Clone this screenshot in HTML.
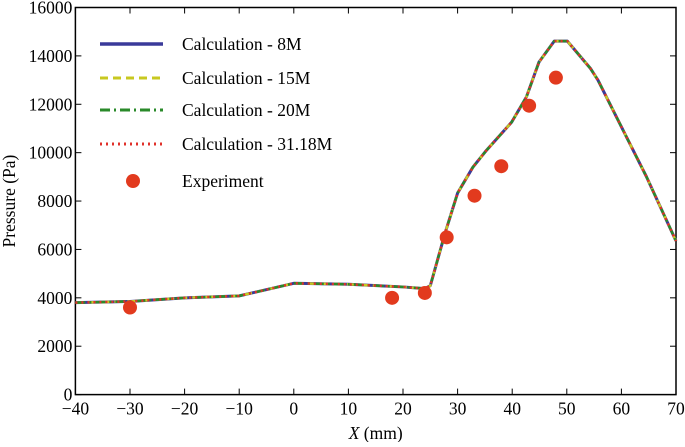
<!DOCTYPE html>
<html><head><meta charset="utf-8"><style>
body{margin:0;background:#fff}
svg,svg text{font-family:"Liberation Serif","Times New Roman","DejaVu Serif",serif;font-size:17.5px}
</style></head><body>
<svg width="685" height="442" id="c" font-family="Liberation Serif, DejaVu Serif, serif"></svg>
<script>
const calcX=[-40,-30,-20,-10,0,10,20,24,25,27.7,30,32.8,35.3,37.8,39.9,42.6,44.9,47.7,50.1,54.3,55.7,64.6,70];
const calcP=[3800,3850,4000,4080,4600,4560,4450,4380,4500,6670,8330,9400,10100,10730,11260,12300,13740,14610,14610,13490,13000,9000,6350];
const expX=[-30,18,24,28,33.1,38,43.1,48];
const expP=[3600,4000,4200,6500,8220,9440,11940,13100];
const xTicks=[-40,-30,-20,-10,0,10,20,30,40,50,60,70];
const yTicks=[0,2000,4000,6000,8000,10000,12000,14000,16000];
const series=[
 {name:'Calculation - 8M',color:'#3a3a9a',dash:'',w:3},
 {name:'Calculation - 15M',color:'#c8c820',dash:'8,5',w:2.5},
 {name:'Calculation - 20M',color:'#2a8a2a',dash:'10,4,2,4',w:2.5},
 {name:'Calculation - 31.18M',color:'#e0302a',dash:'2,4',w:2.5}
];
const L=75.4,R=676,T=7.5,B=394.6;
const sx=v=>L+(v+40)/110*(R-L);
const sy=v=>B-v/16000*(B-T);
const svg=document.getElementById('c');
const NS='http://www.w3.org/2000/svg';
function mk(t,a,p){const e=document.createElementNS(NS,t);for(const k in a)e.setAttribute(k,a[k]);(p||svg).appendChild(e);return e;}
let e;
e=mk('rect',{x:L,y:T,width:R-L,height:B-T,fill:'none',stroke:'#000','stroke-width':1.5});


xTicks.forEach(v=>{
 e=mk('line',{x1:sx(v),x2:sx(v),y1:B,y2:B-6,stroke:'#000'});
 
 
 mk('line',{x1:sx(v),x2:sx(v),y1:T,y2:T+6,stroke:'#000'});
 e=mk('text',{x:sx(v),y:B+20,'text-anchor':'middle'});e.textContent=v<0?'\u2212'+(-v):v;
 
 
});
yTicks.forEach(v=>{
 e=mk('line',{x1:L,x2:L+6,y1:sy(v),y2:sy(v),stroke:'#000'});
 
 
 mk('line',{x1:R,x2:R-6,y1:sy(v),y2:sy(v),stroke:'#000'});
 e=mk('text',{x:L-3,y:sy(v)+6,'text-anchor':'end'});e.textContent=v;
 
 
});
e=mk('text',{x:sx(15),y:439,'text-anchor':'middle'});
e.innerHTML='<tspan font-style="italic">X</tspan> (mm)';


e=mk('text',{x:0,y:0,'text-anchor':'middle',transform:'translate(15,'+((T+B)/2)+') rotate(-90)'});
e.textContent='Pressure (Pa)';


const pts=calcX.map((x,i)=>sx(x)+','+sy(calcP[i])).join(' ');
series.forEach((s,i)=>{
 e=mk('polyline',{points:pts,fill:'none',stroke:s.color,'stroke-width':s.w,'stroke-dasharray':s.dash,'stroke-linejoin':'round'});
 
 
});
expX.forEach((x,i)=>{
 e=mk('circle',{cx:sx(x),cy:sy(expP[i]),r:7,fill:'#e23a1e'});
 
 
});
const ly=[44,78,110,144];
series.forEach((s,i)=>{
 e=mk('line',{x1:100,x2:163,y1:ly[i],y2:ly[i],stroke:s.color,'stroke-width':s.w+0.5,'stroke-dasharray':s.dash});
 
 
 e=mk('text',{x:182,y:ly[i]+6});e.textContent=s.name;
 
 
});
e=mk('circle',{cx:133,cy:181,r:7,fill:'#e23a1e'});


e=mk('text',{x:182,y:187});e.textContent='Experiment';


</script>
</body></html>
